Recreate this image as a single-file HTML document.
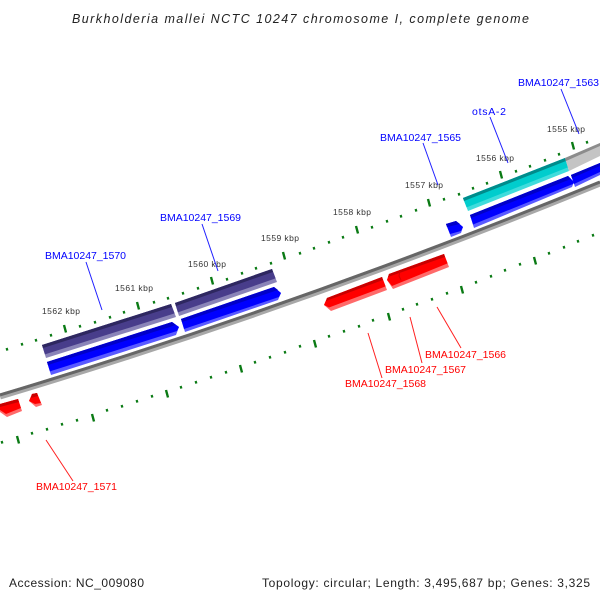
<!DOCTYPE html>
<html><head><meta charset="utf-8"><style>
html,body{margin:0;padding:0;background:#fff}
svg{display:block}
text{font-family:"Liberation Sans",sans-serif}
.l{font-size:10.5px}
.k{font-size:8.5px;fill:#333}
.b{fill:#0000ff}.r{fill:#ff0000}
</style></head><body>
<svg width="600" height="600" viewBox="0 0 600 600" xmlns="http://www.w3.org/2000/svg">
<rect width="600" height="600" fill="#fff"/>
<text x="72" y="23" font-size="12.5" font-style="italic" fill="#222" textLength="457">Burkholderia mallei NCTC 10247 chromosome I, complete genome</text>

<!-- backbone -->
<path d="M0 396.5 Q300 306.5 600 183.5" fill="none" stroke="#a8a8a8" stroke-width="6"/>
<path d="M0 395 Q300 305 600 182" fill="none" stroke="#666" stroke-width="3"/>

<!-- tick marks -->
<path fill="none" stroke="#0a7a14" stroke-width="2.2" d="
M6.6 348l.8 2.6M21.6 343l.8 2.6M35.6 339l.8 2.6M50.6 334l.8 2.6M79.6 325l.8 2.6M94.6 321l.8 2.6M109.6 316l.8 2.6M123.6 311l.8 2.6M153.6 301l.8 2.6M167.6 297l.8 2.6M182.6 292l.8 2.6M197.6 287l.8 2.6M226.6 278l.8 2.6M241.6 272l.8 2.6M255.6 267l.8 2.6M270.6 262l.8 2.6M299.6 252l.8 2.6M313.6 247l.8 2.6M328.6 241l.8 2.6M342.6 236l.8 2.6M371.6 226l.8 2.6M386.6 220l.8 2.6M400.6 215l.8 2.6M415.6 209l.8 2.6M443.6 198l.8 2.6M458.6 193l.8 2.6M472.6 187l.8 2.6M486.6 182l.8 2.6M515.6 170l.8 2.6M529.6 165l.8 2.6M544.6 159l.8 2.6M558.6 153l.8 2.6M586.6 141l.8 2.6
M1.6 441l.8 2.6M31.6 432l.8 2.6M46.6 428l.8 2.6M61.6 423l.8 2.6M76.6 419l.8 2.6M106.6 409l.8 2.6M121.6 405l.8 2.6M136.6 400l.8 2.6M151.6 395l.8 2.6M180.6 386l.8 2.6M195.6 381l.8 2.6M210.6 376l.8 2.6M225.6 371l.8 2.6M254.6 361l.8 2.6M269.6 356l.8 2.6M284.6 351l.8 2.6M299.6 345l.8 2.6M328.6 335l.8 2.6M343.6 330l.8 2.6M358.6 325l.8 2.6M372.6 319l.8 2.6M402.6 308l.8 2.6M416.6 303l.8 2.6M431.6 298l.8 2.6M446.6 292l.8 2.6M475.6 281l.8 2.6M490.6 275l.8 2.6M504.6 269l.8 2.6M519.6 263l.8 2.6M548.6 252l.8 2.6M563.6 246l.8 2.6M577.6 240l.8 2.6M592.6 234l.8 2.6"/>
<path fill="none" stroke="#0a7a14" stroke-width="2.4" d="
M64 325l2 7.5M137 302l2 7.5M211 277l2 7.5M283 252l2 7.5M356 226l2 7.5M428 199l2 7.5M500 171l2 7.5M572 142l2 7.5
M17 436l2 7.5M92 414l2 7.5M166 390l2 7.5M240 365l2 7.5M314 340l2 7.5M388 313l2 7.5M461 286l2 7.5M534 257l2 7.5"/>

<!-- kbp labels -->
<text class="k" x="42" y="314" textLength="38">1562 kbp</text>
<text class="k" x="115" y="291" textLength="38">1561 kbp</text>
<text class="k" x="188" y="267" textLength="38">1560 kbp</text>
<text class="k" x="261" y="241" textLength="38">1559 kbp</text>
<text class="k" x="333" y="215" textLength="38">1558 kbp</text>
<text class="k" x="405" y="188" textLength="38">1557 kbp</text>
<text class="k" x="476" y="161" textLength="38">1556 kbp</text>
<text class="k" x="547" y="132" textLength="38">1555 kbp</text>

<!-- purple genes -->
<polygon points="42,345 171,304 176,317 46,358" fill="#8a84b8"/>
<polygon points="42,345 171,304 174.6,313.4 44.9,354.4" fill="#483d8b"/>
<polygon points="42,345 171,304 172,307 43,348" fill="#2e2760"/>
<polygon points="175,303 272,269 277,282 179,316" fill="#8a84b8"/>
<polygon points="175,303 272,269 275.6,278.4 177.9,312.4" fill="#483d8b"/>
<polygon points="175,303 272,269 273,272 176,306" fill="#2e2760"/>

<!-- cyan and grey -->
<polygon points="463,198 565,158 569,171 468,211" fill="#40dcdc"/>
<polygon points="463,198 565,158 567.9,167.4 466.6,207.4" fill="#00cdcd"/>
<polygon points="463,198 565,158 566,161 464,201" fill="#008b8b"/>
<polygon points="565,158 600,143 600,156 569,171" fill="#c4c4c4"/>
<polygon points="565,158 600,143 600,146 566,161" fill="#8c8c8c"/>

<!-- blue genes -->
<polygon points="47,362 172,322 179,327 176,335 51,375" fill="#5a5aff"/>
<polygon points="47,362 172,322 179,327 177,331 49.9,371.4" fill="#0000ff"/>
<polygon points="47,362 172,322 176,325 48,365" fill="#0000c8"/>
<polygon points="181,319 274,287 281,293 278,300 185,332" fill="#5a5aff"/>
<polygon points="181,319 274,287 281,293 279,297 184,329" fill="#0000ff"/>
<polygon points="181,319 274,287 278,290 182,322" fill="#0000c8"/>
<polygon points="470,215 568,176 574,182 572,187 474,228" fill="#5a5aff"/>
<polygon points="470,215 568,176 574,182 573,184 473,224.5" fill="#0000ff"/>
<polygon points="470,215 568,176 571,179 471,218" fill="#0000c8"/>
<polygon points="571,175 600,163 600,175 575,187" fill="#5a5aff"/>
<polygon points="571,175 600,163 600,172 574,184" fill="#0000ff"/>
<polygon points="571,175 600,163 600,166 572,178" fill="#0000c8"/>
<polygon points="446,224 456,221 463,227 461,233 451,237" fill="#5a5aff"/>
<polygon points="446,224 456,221 463,227 461,231 450,234" fill="#0000ff"/>
<polygon points="446,224 456,221 460,224 447,227" fill="#0000c8"/>

<!-- red genes -->
<polygon points="324,305 327,298 382,277 387,290 331,311" fill="#ff6a6a"/>
<polygon points="324,305 327,298 382,277 385.6,286.4 329,307.5" fill="#ff0000"/>
<polygon points="327,298 382,277 383,280 326,301" fill="#c80000"/>
<polygon points="387,280 389,274 444,254 449,267 393,289" fill="#ff6a6a"/>
<polygon points="387,280 389,274 444,254 447.6,263.4 392,286" fill="#ff0000"/>
<polygon points="389,274 444,254 445,257 388,277" fill="#c80000"/>
<polyline points="400,271 399,276 401,280" fill="none" stroke="#d80000" stroke-width="1"/>
<polygon points="0,404 18,399 22,411 7,417 0,412" fill="#ff6a6a"/>
<polygon points="0,404 18,399 21,408 6,414 0,410" fill="#ff0000"/>
<polygon points="0,404 18,399 19,402 0,407" fill="#c80000"/>
<polygon points="32,394 37,393 42,405 36,407 29,401" fill="#ff6a6a"/>
<polygon points="32,394 37,393 41,403 35,404 29,401" fill="#ff0000"/>
<polygon points="32,394 37,393 38,396 31,398" fill="#c80000"/>

<!-- label lines -->
<g stroke="#2020ff" stroke-width="1" fill="none">
<path d="M86 262L102 310M202 224L218 271M423 143L438 185M490 117L508 163M561 89L579 134"/>
</g>
<g stroke="#ff2020" stroke-width="1" fill="none">
<path d="M437 307L461 348M410 317L422 363M368 333L382 378M46 440L73 481"/>
</g>

<!-- labels -->
<text class="l b" x="45" y="259" textLength="81">BMA10247_1570</text>
<text class="l b" x="160" y="221" textLength="81">BMA10247_1569</text>
<text class="l b" x="380" y="141" textLength="81">BMA10247_1565</text>
<text class="l b" x="472" y="115" textLength="34">otsA-2</text>
<text class="l b" x="518" y="86" textLength="81">BMA10247_1563</text>
<text class="l r" x="425" y="358" textLength="81">BMA10247_1566</text>
<text class="l r" x="385" y="373" textLength="81">BMA10247_1567</text>
<text class="l r" x="345" y="387" textLength="81">BMA10247_1568</text>
<text class="l r" x="36" y="490" textLength="81">BMA10247_1571</text>

<text x="9" y="587" font-size="12" fill="#222" textLength="135">Accession: NC_009080</text>
<text x="262" y="587" font-size="12" fill="#222" textLength="328">Topology: circular; Length: 3,495,687 bp; Genes: 3,325</text>
</svg>
</body></html>
